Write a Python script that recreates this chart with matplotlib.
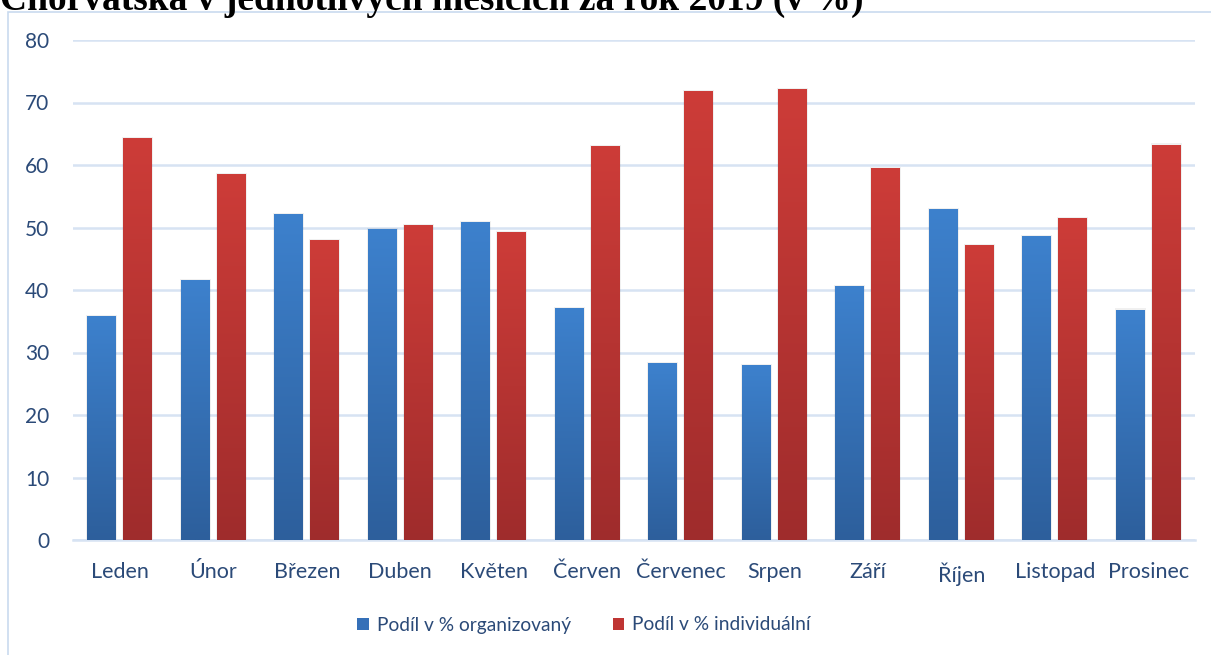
import numpy as np
import matplotlib
matplotlib.use("Agg")
import matplotlib.pyplot as plt
from matplotlib.colors import LinearSegmentedColormap
from matplotlib.patches import Rectangle, Patch

# data
mesice = ["Leden", "Únor", "Březen", "Duben", "Květen", "Červen",
          "Červenec", "Srpen", "Září", "Říjen", "Listopad", "Prosinec"]
organizovany = [35.8, 41.5, 52.1, 49.7, 50.8, 37.1, 28.3, 27.9, 40.5, 52.9, 48.6, 36.8]
individualni = [64.2, 58.5, 47.9, 50.3, 49.2, 62.9, 71.7, 72.1, 59.5, 47.1, 51.4, 63.2]
nazvy_serii = ["Podíl v % organizovaný", "Podíl v % individuální"]
titulek = "Chorvatska v jednotlivých měsících za rok 2019 (v %)"

plt.rcParams['font.family'] = ['Lato', 'DejaVu Sans']
text_barva = "#2b4a78"

fig = plt.figure(figsize=(12.11, 6.55), dpi=100)
ax = fig.add_axes([73/1211, 1-540/655, (1195-73)/1211, 500/655])

# gradient barev sloupcu (nahore svetlejsi, dole tmavsi)
cmap_modra = LinearSegmentedColormap.from_list("m", ["#2d5f9c", "#3d81cd"])
cmap_cervena = LinearSegmentedColormap.from_list("c", ["#9f2c2c", "#cd3c38"])

x = np.arange(len(mesice))
sirka = 0.31
posun = 0.193

def gradient_sloupce(pozice, hodnoty, cmap):
    bars = ax.bar(pozice, hodnoty, width=sirka, color="none", zorder=3)
    for b in bars:
        x0, w, h = b.get_x(), b.get_width(), b.get_height()
        # jemny stin
        ax.add_patch(Rectangle((x0 - 0.012, 0), w + 0.024, h + 0.25, color="#000000",
                               alpha=0.06, lw=0, zorder=2))
        grad = np.linspace(0, 1, 256).reshape(-1, 1)
        ax.imshow(grad, extent=[x0, x0 + w, 0, h], origin="lower", cmap=cmap,
                  aspect="auto", zorder=3)
    return bars

gradient_sloupce(x - posun, organizovany, cmap_modra)
gradient_sloupce(x + posun, individualni, cmap_cervena)

ax.set_xlim(-0.5, len(mesice) - 0.5)
ax.set_ylim(0, 80)
ax.set_yticks(range(0, 81, 10))
ax.set_xticks(x)
ax.set_xticklabels(mesice)
ax.grid(axis="y", color="#d7e3f3", linewidth=1.8, zorder=0)
ax.set_axisbelow(True)
for s in ["top", "right", "left"]:
    ax.spines[s].set_visible(False)
ax.spines["bottom"].set_color("#d7e3f3")
ax.spines["bottom"].set_linewidth(1.8)
ax.tick_params(axis="y", length=0, pad=17, labelsize=15, labelcolor=text_barva)
ax.tick_params(axis="x", length=0, pad=16, labelsize=15.5, labelcolor=text_barva)

# legenda
handles = [Patch(facecolor="#3570b8", edgecolor="none"),
           Patch(facecolor="#bf3533", edgecolor="none")]
leg = fig.legend(handles, nazvy_serii, loc="center", bbox_to_anchor=(584/1211, 1-625/655),
                 ncol=2, frameon=False, fontsize=13.8, handlelength=0.6, handleheight=0.6,
                 handletextpad=0.4, columnspacing=2.2)
for t in leg.get_texts():
    t.set_color(text_barva)

# ramecek grafu
fig.add_artist(Rectangle((8/1211, -0.01), 1.02, 1 - 12/655 + 0.01, transform=fig.transFigure,
                         fill=False, edgecolor="#c9daef", linewidth=1.2))

# titulek (oriznuty nahore)
fig.text(0.0, 1 - 9.5/655, titulek, family="Liberation Serif", fontweight="bold",
         fontsize=27, color="black", ha="left", va="baseline")

plt.savefig("out.png", dpi=100)
